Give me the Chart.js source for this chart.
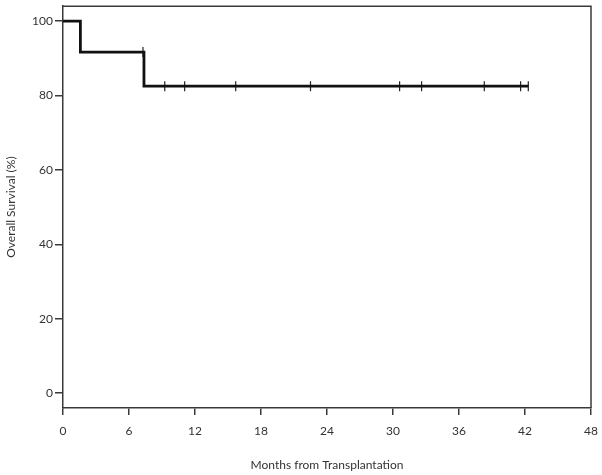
<!DOCTYPE html>
<html>
<head>
<meta charset="utf-8">
<script src="https://cdn.jsdelivr.net/npm/chart.js@4.4.0/dist/chart.umd.min.js"></script>
<style>
  html, body { margin: 0; padding: 0; background: #ffffff; }
  #wrap { width: 602px; height: 475px; position: relative; }
</style>
</head>
<body>
<div id="wrap"><canvas id="c" width="602" height="475"></canvas></div>
<script>
// Kaplan-Meier step points (months, % surviving)
const stepTimes = [0, 1.58, 7.36, 42.3];
const stepSurvival = [100, 91.67, 82.5, 82.5];
// Censored observations (months, % surviving at that time)
const censorTimes = [7.27, 9.25, 11.06, 15.7, 22.5, 30.6, 32.6, 38.3, 41.6, 42.3];
const censorSurvival = [91.67, 82.5, 82.5, 82.5, 82.5, 82.5, 82.5, 82.5, 82.5, 82.5];
// Axis ticks
const xTicks = [0, 6, 12, 18, 24, 30, 36, 42, 48];
const yTicks = [0, 20, 40, 60, 80, 100];

const FONT = 'Lato, "Open Sans", sans-serif';
const AXIS_COLOR = '#3a3a3a';

const boxPlugin = {
  id: 'boxPlugin',
  afterDraw(chart) {
    const { ctx, chartArea: a } = chart;
    ctx.save();
    ctx.strokeStyle = AXIS_COLOR;
    ctx.lineWidth = 1.5;
    ctx.beginPath();
    ctx.moveTo(a.left, a.top);
    ctx.lineTo(a.right, a.top);
    ctx.lineTo(a.right, a.bottom);
    ctx.stroke();
    ctx.restore();
  }
};

new Chart(document.getElementById('c'), {
  type: 'scatter',
  data: {
    datasets: [
      {
        label: 'Survival',
        data: stepTimes.map((t, i) => ({ x: t, y: stepSurvival[i] })),
        showLine: true,
        stepped: 'before',
        borderColor: '#111111',
        borderWidth: 2.8,
        pointRadius: 0,
        fill: false
      },
      {
        label: 'Censored',
        data: censorTimes.map((t, i) => ({ x: t, y: censorSurvival[i] })),
        showLine: false,
        pointStyle: 'line',
        rotation: 90,
        pointRadius: 5,
        borderColor: '#222222',
        borderWidth: 1.2,
        backgroundColor: '#222222'
      }
    ]
  },
  options: {
    responsive: false,
    animation: false,
    layout: { padding: { top: 5, right: 11, left: 0, bottom: 0 } },
    plugins: {
      legend: { display: false },
      tooltip: { enabled: false }
    },
    scales: {
      x: {
        type: 'linear',
        min: 0,
        max: 48,
        afterBuildTicks(scale) { scale.ticks = xTicks.map(v => ({ value: v })); },
        afterFit(scale) { scale.height = 67; scale.paddingLeft = 0; scale.paddingRight = 0; },
        grid: { drawOnChartArea: false, drawTicks: true, tickLength: 7, color: AXIS_COLOR, lineWidth: 1.5 },
        border: { display: true, color: AXIS_COLOR, width: 1.5 },
        ticks: { color: '#333333', font: { family: FONT, size: 12 }, padding: 9, maxRotation: 0, autoSkip: false },
        title: { display: true, text: 'Months from Transplantation', color: '#333333', font: { family: FONT, size: 12 }, padding: { top: 0, bottom: 3 } }
      },
      y: {
        type: 'linear',
        min: -4,
        max: 104,
        afterBuildTicks(scale) { scale.ticks = yTicks.map(v => ({ value: v })); },
        afterFit(scale) { scale.width = 63; scale.paddingTop = 0; scale.paddingBottom = 0; },
        grid: { drawOnChartArea: false, drawTicks: true, tickLength: 8, color: AXIS_COLOR, lineWidth: 1.5 },
        border: { display: true, color: AXIS_COLOR, width: 1.5 },
        ticks: { color: '#333333', font: { family: FONT, size: 12 }, padding: 2, autoSkip: false },
        title: { display: true, text: 'Overall Survival (%)', color: '#333333', font: { family: FONT, size: 12 }, padding: { top: 4, bottom: 0 } }
      }
    }
  },
  plugins: [boxPlugin]
});
</script>
</body>
</html>
